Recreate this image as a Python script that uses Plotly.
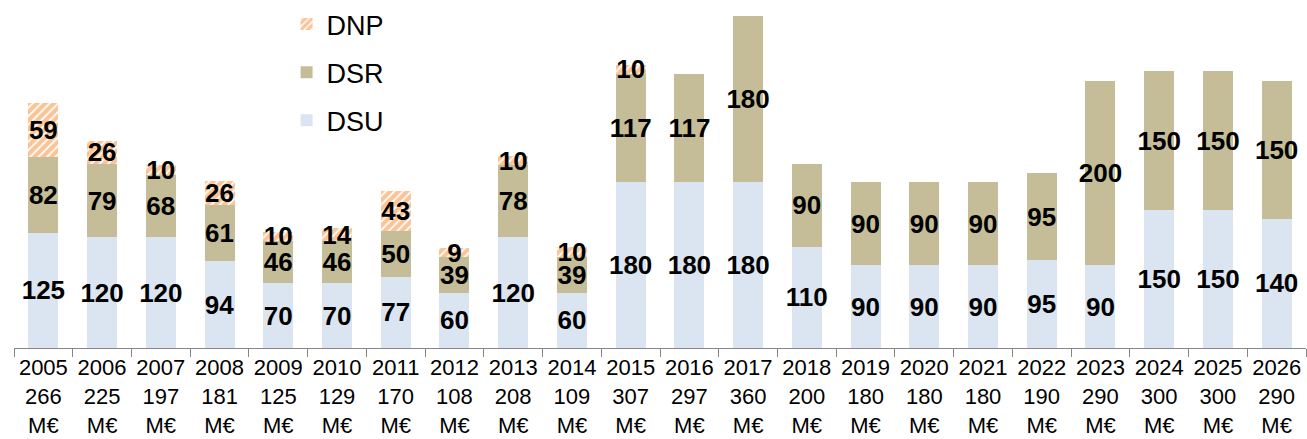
import plotly.graph_objects as go

years = ["2005", "2006", "2007", "2008", "2009", "2010", "2011", "2012", "2013", "2014", "2015",
         "2016", "2017", "2018", "2019", "2020", "2021", "2022", "2023", "2024", "2025", "2026"]
totals = [266, 225, 197, 181, 125, 129, 170, 108, 208, 109, 307,
          297, 360, 200, 180, 180, 180, 190, 290, 300, 300, 290]
dsu = [125, 120, 120, 94, 70, 70, 77, 60, 120, 60, 180,
       180, 180, 110, 90, 90, 90, 95, 90, 150, 150, 140]
dsr = [82, 79, 68, 61, 46, 46, 50, 39, 78, 39, 117,
       117, 180, 90, 90, 90, 90, 95, 200, 150, 150, 150]
dnp = [59, 26, 10, 26, 10, 14, 43, 9, 10, 10, 10,
       None, None, None, None, None, None, None, None, None, None, None]

ticktext = [f"{y}<br>{t}<br>M€" for y, t in zip(years, totals)]

def labels(vals):
    return [str(v) if v else "" for v in vals]

label_font = dict(family="Liberation Sans, Arial, sans-serif", size=26, color="black", weight="bold")

fig = go.Figure()
fig.add_trace(go.Bar(
    x=years, y=dsu, name="DSU", legendgroup="dsu", legendrank=3,
    marker=dict(color="#DBE5F1", line=dict(width=0)),
    text=labels(dsu), textposition="inside", insidetextanchor="middle",
    constraintext="none", textangle=0, textfont=label_font,
))
fig.add_trace(go.Bar(
    x=years, y=dsr, name="DSR", legendgroup="dsr", legendrank=2,
    marker=dict(color="#C4BD97", line=dict(width=0)),
    text=labels(dsr), textposition="inside", insidetextanchor="middle",
    constraintext="none", textangle=0, textfont=label_font,
))
fig.add_trace(go.Bar(
    x=years, y=dnp, name="DNP", legendgroup="dnp", legendrank=1,
    marker=dict(color="#F79646", line=dict(width=0),
                pattern=dict(shape="/", fgcolor="#F58A30", bgcolor="white",
                             size=6, solidity=0.7)),
    text=labels(dnp), textposition="inside", insidetextanchor="middle",
    constraintext="none", textangle=0, textfont=label_font,
))

fig.update_layout(
    width=1307, height=439,
    margin=dict(l=14, r=1, t=15, b=91),
    paper_bgcolor="white", plot_bgcolor="white",
    barmode="stack", bargap=0.49,
    font=dict(family="Liberation Sans, Arial, sans-serif", color="black"),
    showlegend=True,
    legend=dict(
        x=0.211, y=1.045, xanchor="left", yanchor="top",
        traceorder="grouped", tracegroupgap=10,
        font=dict(size=27, color="black"),
        bgcolor="rgba(0,0,0,0)",
    ),
    xaxis=dict(
        tickmode="array", tickvals=years, ticktext=ticktext,
        tickson="boundaries", ticks="outside", ticklen=8, tickcolor="#868686",
        showline=True, linecolor="#868686", linewidth=1,
        tickfont=dict(size=22, color="black"),
        showgrid=False, zeroline=False, automargin=False,
    ),
    yaxis=dict(range=[0, 360], visible=False, showgrid=False, zeroline=False),
)

fig.write_html("out.html", config={"displayModeBar": False},
               post_script="document.body.style.margin='0';document.body.style.padding='0';")
